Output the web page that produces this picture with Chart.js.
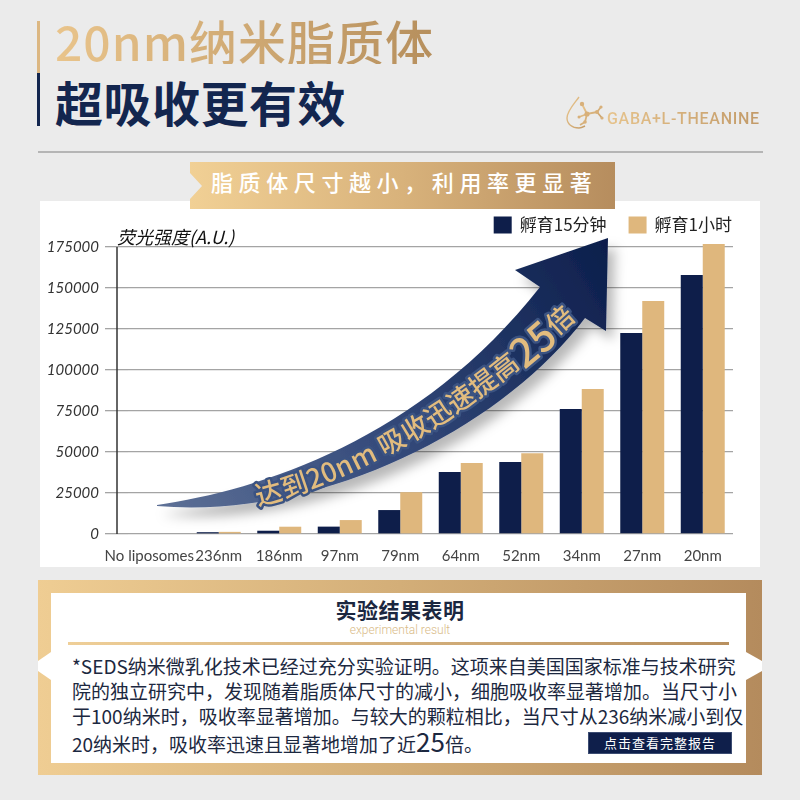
<!DOCTYPE html>
<html><head><meta charset="utf-8">
<script src="https://cdn.jsdelivr.net/npm/chart.js@4"></script>
<style>
html,body{margin:0;padding:0;}
body{width:800px;height:800px;background:#ebebeb;position:relative;overflow:hidden;font-family:'Noto Sans CJK SC',sans-serif;}
.abs{position:absolute;white-space:nowrap;}
.t1{left:55px;top:16px;font-size:48px;line-height:48px;font-weight:500;letter-spacing:1px;background:linear-gradient(90deg,#e9c48b,#b68f5d);-webkit-background-clip:text;background-clip:text;color:transparent;}
.t2{left:55px;top:77px;font-size:48px;line-height:48px;font-weight:700;color:#13264f;letter-spacing:0.5px;}
.banner{left:190px;top:162px;width:425px;height:47px;background:linear-gradient(90deg,#f1d095,#d8b27b 50%,#b68d5e);clip-path:polygon(0 0,100% 0,100% 11px,587px 24px,100% 37px,100% 100%,0 100%,0 37px,12px 24px,0 11px);}
.btxt{left:211px;top:170px;font-size:22px;line-height:22px;font-weight:500;color:#fff;letter-spacing:5.6px;}
.card{left:40px;top:201px;width:720px;height:366px;background:#fff;}
#wrap{position:absolute;left:40px;top:201px;width:720px;height:366px;}
.frame{left:38px;top:580px;width:724px;height:195px;background:linear-gradient(90deg,#efcd93,#d3ae78 50%,#b48b5d);}
.inner{left:51px;top:593px;width:695px;height:170px;background:#fff;}
.notchL{left:38px;top:652px;width:13px;height:28px;background:#fff;clip-path:polygon(0 9px,100% 0,100% 100%,0 19px);}
.notchR{left:746px;top:652px;width:16px;height:28px;background:#fff;clip-path:polygon(0 0,100% 9px,100% 19px,0 100%);}
.h3{left:0;width:800px;text-align:center;top:599px;font-size:21px;line-height:21px;font-weight:700;color:#1b2740;letter-spacing:0.5px;}
.en{left:0;width:800px;text-align:center;top:624px;font-family:Roboto,sans-serif;font-weight:300;font-size:12px;line-height:12px;color:#d9bb88;}
.gl{left:68px;top:642px;width:661px;height:3px;background:linear-gradient(90deg,#efcf98,#b8905f);}
.p{left:72px;font-size:19px;line-height:25.2px;color:#1c2840;}
.btn{left:588px;top:732px;width:144px;height:22px;background:#0f1f4b;color:#fff;font-size:13px;line-height:22px;text-align:center;letter-spacing:1px;box-shadow:0 0 0 1px #3c4c72 inset;}
.rule{left:38px;top:151px;width:725px;height:2px;background:#b5b5b5;}
.logo{left:607px;top:109px;font-family:Roboto,sans-serif;font-weight:500;font-size:16px;line-height:20px;letter-spacing:0.7px;background:linear-gradient(90deg,#e6c38c,#c29a68);-webkit-background-clip:text;background-clip:text;color:transparent;}
</style></head><body>
<div class="abs" style="left:37px;top:21px;width:3px;height:52px;background:#dcb782"></div>
<div class="abs" style="left:37px;top:73px;width:3px;height:53px;background:#13264f"></div>
<div class="abs t1">20nm纳米脂质体</div>
<div class="abs t2">超吸收更有效</div>
<svg class="abs" style="left:0;top:0" width="800" height="160">
  <defs><linearGradient id="lg" x1="0" y1="0" x2="1" y2="1"><stop offset="0" stop-color="#ecc991"/><stop offset="1" stop-color="#c49b66"/></linearGradient></defs>
  <g fill="none" stroke="url(#lg)" stroke-width="1.4">
    <path d="M579,97 C574,104 567,111 567,118 C567,124 572,128 579,128 C581,128 583,127 585,126"/>
    <path d="M582,104 L587,114 L597,112 M597,112 L601,107 M597,112 L602,118 M587,114 L585,122 L580,125 M587,114 L579,117" stroke-width="1.8"/>
  </g>
  <g fill="#d8b07a">
    <circle cx="582" cy="104" r="2.2"/><circle cx="587" cy="114" r="2.6"/><circle cx="597" cy="112" r="2"/>
    <circle cx="601" cy="107" r="1.6"/><circle cx="602" cy="118" r="1.6"/><circle cx="585" cy="122" r="1.8"/><circle cx="579" cy="117" r="1.5"/>
  </g>
</svg>
<div class="abs logo">GABA+L-THEANINE</div>
<div class="abs rule"></div>

<div class="abs card"></div>
<div class="abs banner"></div>
<div class="abs btxt">脂质体尺寸越小，利用率更显著</div>
<div id="wrap"><canvas id="c" width="720" height="366"></canvas></div>

<svg class="abs" style="left:0;top:0;pointer-events:none" width="800" height="580">
  <defs>
    <linearGradient id="ag" gradientUnits="userSpaceOnUse" x1="157" y1="505" x2="608" y2="238">
      <stop offset="0" stop-color="#5d7096"/>
      <stop offset="0.45" stop-color="#33497a"/>
      <stop offset="1" stop-color="#0c1e4b"/>
    </linearGradient>
    <filter id="sh" x="-20%" y="-20%" width="150%" height="150%">
      <feDropShadow dx="7" dy="9" stdDeviation="6" flood-color="#000" flood-opacity="0.28"/>
    </filter>
    <path id="tp" d="M255,494 C330,478 450,420 570,308" fill="none"/>
  </defs>
  <path d="M157,505 C260,490 420,440 540,287 L515,270 L608,238 L606,331 L585,318 C500,430 320,520 157,506 Z" fill="url(#ag)" filter="url(#sh)"/>
  <text font-family="Noto Sans CJK SC" font-size="27" font-weight="500" fill="#e2bc7e" stroke="#3b5382" stroke-width="5" paint-order="stroke" stroke-linejoin="round" dominant-baseline="central"><textPath href="#tp">达到20nm 吸收迅速提高<tspan font-size="40">25</tspan>倍</textPath></text>
</svg>

<div class="abs frame"></div>
<div class="abs inner"></div>
<div class="abs notchL"></div>
<div class="abs notchR"></div>
<div class="abs h3">实验结果表明</div>
<div class="abs en">experimental result</div>
<div class="abs gl"></div>
<div class="abs p" style="top:653px">*SEDS纳米微乳化技术已经过充分实验证明。这项来自美国国家标准与技术研究</div>
<div class="abs p" style="top:678px">院的独立研究中，发现随着脂质体尺寸的减小，细胞吸收率显著增加。当尺寸小</div>
<div class="abs p" style="top:703px">于100纳米时，吸收率显著增加。与较大的颗粒相比，当尺寸从236纳米减小到仅</div>
<div class="abs p" style="top:728px">20纳米时，吸收率迅速且显著地增加了近<span style="font-size:26px">25</span>倍。</div>
<div class="abs btn">点击查看完整报告</div>

<script>
const categories = ['No liposomes','236nm','186nm','97nm','79nm','64nm','52nm','34nm','27nm','20nm'];
const incubation15min = [0, 1100, 2000, 4500, 14600, 37800, 43900, 76200, 122500, 157900];
const incubation1h = [0, 1300, 4450, 8500, 25500, 43300, 49200, 88400, 142000, 176800];
const seriesLabels = ['孵育15分钟', '孵育1小时'];
const seriesColors = ['#0e1e4a', '#dfb77d'];
const yTickValues = [0, 25000, 50000, 75000, 100000, 125000, 150000, 175000];
const yAxisTitle = '荧光强度(A.U.)';

const decorPlugin = {
  id: 'decor',
  beforeDraw(chart) {
    // nudge the long first category label left so it does not collide with its neighbour
    const items = chart.scales.x.getLabelItems(chart.chartArea);
    if (items && items[0] && items[0].options && items[0].options.translation) {
      items[0].options.translation[0] -= 9;
    }
  },
  beforeDatasetsDraw(chart) {
    const {ctx, chartArea, scales: {y}} = chart;
    ctx.save();
    ctx.strokeStyle = '#333';
    ctx.lineWidth = 1.5;
    const x = chartArea.left - 11;
    ctx.beginPath();
    ctx.moveTo(x, y.getPixelForValue(y.max));
    ctx.lineTo(x, y.getPixelForValue(0));
    ctx.stroke();
    ctx.restore();
  },
  afterDraw(chart) {
    const {ctx, chartArea} = chart;
    ctx.save();
    ctx.textBaseline = 'middle';
    ctx.textAlign = 'left';
    ctx.font = 'italic 18px "Noto Sans CJK SC"';
    ctx.fillStyle = '#111';
    ctx.fillText(yAxisTitle, chartArea.left - 11, chartArea.top - 10);
    ctx.font = '17px "Noto Sans CJK SC"';
    let xr = chartArea.right - 1;
    const cy = chartArea.top - 22;
    const ds = chart.data.datasets;
    for (let i = ds.length - 1; i >= 0; i--) {
      const w = ctx.measureText(ds[i].label).width;
      ctx.fillStyle = '#222';
      ctx.fillText(ds[i].label, xr - w, cy);
      const bx = xr - w - 8 - 18;
      ctx.fillStyle = ds[i].backgroundColor;
      ctx.fillRect(bx, cy - 8.5, 18, 17);
      xr = bx - 22;
    }
    ctx.restore();
  }
};

new Chart(document.getElementById('c'), {
  type: 'bar',
  data: {
    labels: categories,
    datasets: [
      {label: seriesLabels[0], data: incubation15min, backgroundColor: seriesColors[0]},
      {label: seriesLabels[1], data: incubation1h, backgroundColor: seriesColors[1]}
    ]
  },
  options: {
    responsive: false,
    animation: false,
    devicePixelRatio: 1,
    layout: {padding: {top: 46, right: 27, left: 0, bottom: 0}},
    datasets: {bar: {barPercentage: 1, categoryPercentage: 0.727, borderWidth: 0, clip: false}},
    plugins: {legend: {display: false}, tooltip: {enabled: false}},
    scales: {
      x: {
        grid: {display: false, drawTicks: false},
        border: {display: false},
        ticks: {font: {family: 'Lato', size: 15}, color: '#444', padding: 13, maxRotation: 0, autoSkip: false},
        afterFit: s => { s.height = 33; }
      },
      y: {
        min: 0, max: 175000,
        afterBuildTicks: s => { s.ticks = yTickValues.map(v => ({value: v})); },
        grid: {color: '#a4a4a4', lineWidth: 1.3, tickLength: 23, drawTicks: true},
        border: {display: false},
        ticks: {font: {family: 'Lato', size: 15, style: 'italic'}, color: '#333', padding: 6, callback: v => String(v)},
        afterFit: s => { s.width = 88; }
      }
    }
  },
  plugins: [decorPlugin]
});
</script>
</body></html>
